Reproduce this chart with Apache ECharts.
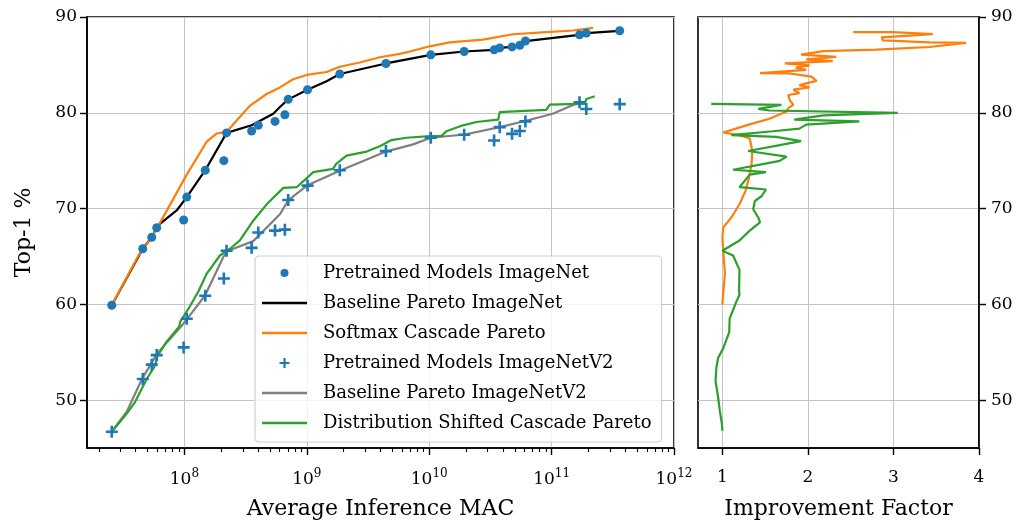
<!DOCTYPE html>
<html>
<head>
<meta charset="utf-8">
<script src="https://cdn.jsdelivr.net/npm/echarts@6/dist/echarts.min.js"></script>
<style>html,body{margin:0;padding:0;background:#fff;}#c{width:1021px;height:525px;}</style>
</head>
<body>
<div id="c"></div>
<script>
// ---- data ----
const modelMAC = [2.55e7,4.57e7,5.41e7,5.94e7,9.86e7,1.045e8,1.48e8,2.10e8,2.21e8,3.54e8,4.01e8,5.50e8,6.62e8,7.05e8,1.014e9,1.86e9,4.43e9,1.03e10,1.93e10,3.39e10,3.77e10,4.75e10,5.50e10,6.11e10,1.69e11,1.92e11,3.60e11];
const accImageNet = [59.9,65.8,67.0,68.0,68.8,71.2,74.0,75.0,77.9,78.1,78.7,79.1,79.8,81.4,82.4,84.05,85.15,86.05,86.4,86.57,86.77,86.88,87.04,87.49,88.14,88.32,88.56];
const accImageNetV2 = [46.7,52.2,53.7,54.7,55.5,58.5,60.9,62.7,65.6,65.9,67.5,67.7,67.8,70.9,72.4,74.0,76.0,77.4,77.7,77.1,78.5,77.8,78.1,79.1,81.1,80.4,80.9];

const baselineINMAC = [2.55e7,4.57e7,5.41e7,5.94e7,6.3e7,8.65e7,1.045e8,1.48e8,2.21e8,3.54e8,5.32e8,6.03e8,7.05e8,1.014e9,1.45e9,1.86e9,4.43e9,1.03e10,1.93e10,3.39e10,3.77e10,4.75e10,5.50e10,6.11e10,1.69e11,1.92e11,3.60e11];
const baselineINAcc = [59.9,65.8,67.0,68.0,68.4,69.8,71.2,74.0,77.9,78.7,79.9,80.6,81.4,82.4,83.3,84.05,85.15,86.05,86.4,86.57,86.77,86.88,87.04,87.49,88.14,88.32,88.56];

const softmaxMAC = [2.57e7,4.21e7,5.41e7,7.16e7,1.045e8,1.52e8,1.84e8,2.21e8,2.67e8,3.44e8,4.70e8,6.03e8,7.74e8,9.95e8,1.45e9,1.86e9,2.71e9,3.95e9,5.75e9,6.95e9,1.01e10,1.47e10,2.75e10,4.84e10,9.06e10,1.50e11,2.18e11];
const softmaxAcc = [60.0,65.1,67.0,69.76,73.54,76.98,77.84,78.0,79.2,80.75,81.96,82.65,83.5,83.95,84.26,84.81,85.25,85.8,86.15,86.4,86.94,87.35,87.63,88.2,88.42,88.59,88.87];

const baselineV2MAC = [2.55e7,3.38e7,4.48e7,5.94e7,7.16e7,9.20e7,1.057e8,1.47e8,2.08e8,2.28e8,3.65e8,6.03e8,7.05e8,1.014e9,1.86e9,4.43e9,7.38e9,1.03e10,1.95e10,3.77e10,6.07e10,1.02e11,1.69e11];
const baselineV2Acc = [46.7,48.8,52.16,54.8,56.0,57.56,58.5,60.9,64.95,65.6,66.6,69.4,70.86,72.44,73.95,75.95,76.7,77.39,77.73,78.5,79.14,79.9,81.1];

const shiftedMAC = [2.55e7,3.38e7,3.95e7,4.92e7,5.75e7,6.01e7,7.16e7,9.08e7,9.20e7,1.11e8,1.30e8,1.52e8,1.67e8,1.95e8,2.36e8,2.84e8,3.65e8,4.70e8,6.43e8,8.26e8,1.13e9,1.64e9,1.73e9,2.11e9,3.08e9,3.95e9,4.92e9,6.53e9,1.01e10,1.26e10,1.38e10,1.89e10,2.43e10,3.66e10,3.77e10,5.50e10,9.06e10,9.66e10,1.69e11,1.86e11,1.92e11,2.25e11];
const shiftedAcc = [46.7,48.6,49.8,52.2,53.6,54.6,56.1,57.7,58.15,59.8,61.34,63.2,63.9,65.1,65.8,66.67,68.73,70.44,72.16,72.23,73.8,74.15,74.64,75.53,75.95,76.5,77.15,77.39,77.56,77.56,78.07,78.69,79.04,79.28,80.07,80.18,80.31,80.86,80.93,80.93,81.44,81.72];

const softmaxFactor = [1.0,1.01,1.03,1.015,1.0,1.01,1.105,1.20,1.27,1.31,1.34,1.35,1.32,1.20,1.01,1.28,1.55,1.75,1.77,1.83,1.79,1.77,1.90,1.83,2.02,1.90,2.10,2.04,1.79,1.44,1.98,1.86,2.02,1.73,2.29,1.98,2.33,1.92,2.18,2.80,3.42,3.85,3.42,2.88,2.86,3.46,2.99,2.53];
const softmaxFactorAcc = [60.0,61.2,63.2,64.95,67.0,68.04,69.07,70.45,71.82,73.2,74.57,75.95,77.32,77.66,77.94,78.69,79.38,80.14,80.48,80.82,81.27,81.86,82.06,82.41,82.65,82.89,83.33,83.78,84.1,84.15,84.47,84.71,84.95,85.15,85.4,85.57,85.84,86.08,86.43,86.6,86.87,87.29,87.35,87.56,87.87,88.21,88.42,88.42];

const shiftedFactor = [1.0,0.995,0.97,0.95,0.92,0.93,0.95,1.01,1.08,1.085,1.16,1.2,1.195,1.2,1.125,1.0,1.2,1.32,1.44,1.42,1.36,1.38,1.46,1.51,1.20,1.32,1.51,1.125,1.67,1.75,1.30,1.67,1.92,1.63,1.105,1.59,1.90,1.98,2.60,1.84,2.18,3.05,1.55,1.42,1.69,0.87];
const shiftedFactorAcc = [46.8,47.5,48.9,50.3,52.0,53.4,54.4,55.4,57.1,58.5,60.2,61.0,61.5,63.6,65.1,65.6,66.67,67.7,68.56,69.07,69.93,70.79,71.31,71.99,72.23,73.54,73.81,74.05,74.98,75.43,76.01,76.63,77.04,77.49,77.66,78.07,78.35,78.76,79.1,79.28,79.73,80.0,80.24,80.41,80.82,80.93];

const xMajorTicks = [1e8,1e9,1e10,1e11,1e12];
const xMinorTicks = [];
for (let e = 7; e <= 11; e++) for (let m = 2; m <= 9; m++) { const v = m * Math.pow(10, e); if (v > 1.6e7) xMinorTicks.push(v); }
const yTicks = [50,60,70,80,90];
const factorTicks = [1,2,3,4];

// ---- chart ----
const zip = (a, b) => a.map((v, i) => [v, b[i]]);
const FONT = 'DejaVu Serif';
const PLUS = 'path://M-1.2,-5.5L1.2,-5.5L1.2,-1.2L5.5,-1.2L5.5,1.2L1.2,1.2L1.2,5.5L-1.2,5.5L-1.2,1.2L-5.5,1.2L-5.5,-1.2L-1.2,-1.2Z';
const LINEICON = 'path://M0,0L45,0L45,2.3L0,2.3Z';
const DOTICON = 'path://M0,0M15,15M1.5,7.5A6,6 0 1 1 13.5,7.5A6,6 0 1 1 1.5,7.5Z';
const BLUE = '#1f77b4', ORANGE = '#ff7f0e', GREEN = '#2ca02c', GRAY = '#7f7f7f';
const gridLine = { show: true, lineStyle: { color: '#c4c4c4', width: 1 } };
const axLine = { show: true, lineStyle: { color: '#000', width: 1.6 } };
const tickStyle = { show: true, length: 7, lineStyle: { color: '#000', width: 1.4 } };
const labelBase = { color: '#000', fontFamily: FONT, fontSize: 17 };

const chart = echarts.init(document.getElementById('c'), null, { renderer: 'canvas' });
chart.setOption({
  animation: false,
  backgroundColor: '#fff',
  grid: [
    { left: 87, top: 17, width: 587, height: 436, show: true, borderColor: '#000', borderWidth: 1.6, backgroundColor: 'transparent' },
    { left: 698, top: 17, width: 281, height: 436, show: true, borderColor: '#000', borderWidth: 1.6, backgroundColor: 'transparent' }
  ],
  xAxis: [
    { type: 'log', gridIndex: 0, min: 1.6e7, max: 1e12, position: 'bottom',
      axisLine: axLine, axisTick: Object.assign({}, tickStyle, { customValues: xMajorTicks }),
      axisLabel: Object.assign({}, labelBase, { customValues: xMajorTicks, margin: 20,
        formatter: v => '{b|10}{e|' + Math.round(Math.log10(v)) + '}',
        rich: { b: { fontFamily: FONT, fontSize: 17, color: '#000', lineHeight: 20, verticalAlign: 'bottom' },
                e: { fontFamily: FONT, fontSize: 12, color: '#000', lineHeight: 12, verticalAlign: 'top' } } }),
      splitLine: gridLine, minorTick: { show: false }, minorSplitLine: { show: false },
      name: 'Average Inference MAC', nameLocation: 'middle', nameGap: 50,
      nameTextStyle: { color: '#000', fontFamily: FONT, fontSize: 22 } },
    { type: 'log', gridIndex: 0, min: 1.6e7, max: 1e12, position: 'bottom',
      axisLine: { show: false }, axisLabel: { show: false }, splitLine: { show: false },
      axisTick: { show: true, length: 4, customValues: xMinorTicks, lineStyle: { color: '#000', width: 1.1 } } },
    { type: 'value', gridIndex: 1, min: 0.715, max: 4, position: 'bottom',
      axisLine: axLine, axisTick: Object.assign({}, tickStyle, { customValues: factorTicks }),
      axisLabel: Object.assign({}, labelBase, { customValues: factorTicks, margin: 21 }),
      splitLine: gridLine,
      name: 'Improvement Factor', nameLocation: 'middle', nameGap: 50,
      nameTextStyle: { color: '#000', fontFamily: FONT, fontSize: 22 } }
  ],
  yAxis: [
    { type: 'value', gridIndex: 0, min: 45, max: 90, position: 'left',
      axisLine: axLine, axisTick: Object.assign({}, tickStyle, { customValues: yTicks }),
      axisLabel: Object.assign({}, labelBase, { customValues: yTicks, margin: 10 }),
      splitLine: gridLine,
      name: 'Top-1 %', nameLocation: 'middle', nameGap: 52,
      nameTextStyle: { color: '#000', fontFamily: FONT, fontSize: 22 } },
    { type: 'value', gridIndex: 1, min: 45, max: 90, position: 'right',
      axisLine: axLine, axisTick: Object.assign({}, tickStyle, { customValues: yTicks }),
      axisLabel: Object.assign({}, labelBase, { customValues: yTicks, margin: 12 }),
      splitLine: gridLine }
  ],
  legend: {
    left: 255, top: 256, orient: 'vertical',
    padding: [7, 10, 9, 7], itemGap: 10, itemWidth: 45, itemHeight: 10,
    backgroundColor: 'rgba(255,255,255,0.8)', borderColor: '#d0d0d0', borderWidth: 1.2, borderRadius: 4,
    textStyle: { color: '#000', fontFamily: FONT, fontSize: 18, lineHeight: 20, padding: [0, 0, 0, 11] },
    data: [
      { name: 'Pretrained Models ImageNet', icon: DOTICON },
      { name: 'Baseline Pareto ImageNet', icon: LINEICON },
      { name: 'Softmax Cascade Pareto', icon: LINEICON },
      { name: 'Pretrained Models ImageNetV2', icon: PLUS },
      { name: 'Baseline Pareto ImageNetV2', icon: LINEICON },
      { name: 'Distribution Shifted Cascade Pareto', icon: LINEICON }
    ]
  },
  series: [
    { name: 'Baseline Pareto ImageNet', type: 'line', xAxisIndex: 0, yAxisIndex: 0, data: zip(baselineINMAC, baselineINAcc),
      showSymbol: false, symbol: 'none', lineStyle: { color: '#000', width: 2.2 }, itemStyle: { color: '#000' }, z: 3 },
    { name: 'Softmax Cascade Pareto', type: 'line', xAxisIndex: 0, yAxisIndex: 0, data: zip(softmaxMAC, softmaxAcc),
      showSymbol: false, symbol: 'none', lineStyle: { color: ORANGE, width: 2.2 }, itemStyle: { color: ORANGE }, z: 4 },
    { name: 'Baseline Pareto ImageNetV2', type: 'line', xAxisIndex: 0, yAxisIndex: 0, data: zip(baselineV2MAC, baselineV2Acc),
      showSymbol: false, symbol: 'none', lineStyle: { color: GRAY, width: 2.2 }, itemStyle: { color: GRAY }, z: 3 },
    { name: 'Distribution Shifted Cascade Pareto', type: 'line', xAxisIndex: 0, yAxisIndex: 0, data: zip(shiftedMAC, shiftedAcc),
      showSymbol: false, symbol: 'none', lineStyle: { color: GREEN, width: 2.2 }, itemStyle: { color: GREEN }, z: 4 },
    { name: 'Pretrained Models ImageNet', type: 'scatter', xAxisIndex: 0, yAxisIndex: 0, data: zip(modelMAC, accImageNet),
      symbol: 'circle', symbolSize: 9, itemStyle: { color: BLUE, opacity: 1 }, z: 5 },
    { name: 'Pretrained Models ImageNetV2', type: 'scatter', xAxisIndex: 0, yAxisIndex: 0, data: zip(modelMAC, accImageNetV2),
      symbol: PLUS, symbolSize: 12, itemStyle: { color: BLUE, opacity: 1 }, z: 5 },
    { name: 'Softmax Cascade Improvement', type: 'line', xAxisIndex: 2, yAxisIndex: 1, data: zip(softmaxFactor, softmaxFactorAcc),
      showSymbol: false, symbol: 'none', lineStyle: { color: ORANGE, width: 2.2 }, z: 3 },
    { name: 'Distribution Shifted Improvement', type: 'line', xAxisIndex: 2, yAxisIndex: 1, data: zip(shiftedFactor, shiftedFactorAcc),
      showSymbol: false, symbol: 'none', lineStyle: { color: GREEN, width: 2.2 }, z: 4 }
  ]
});
</script>
</body>
</html>
